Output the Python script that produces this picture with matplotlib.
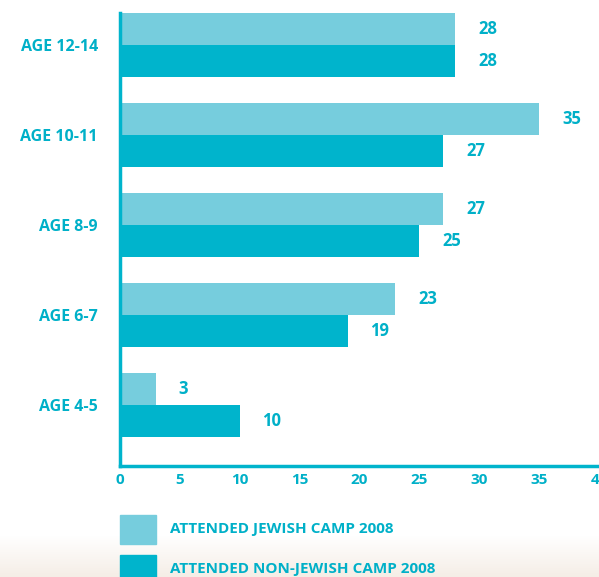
import matplotlib
matplotlib.use("Agg")
import matplotlib.pyplot as plt
import numpy as np
from matplotlib.patches import Rectangle

categories = ["AGE 4-5", "AGE 6-7", "AGE 8-9", "AGE 10-11", "AGE 12-14"]
jewish_camp = [3, 23, 27, 35, 28]
non_jewish_camp = [10, 19, 25, 27, 28]
xticks = [0, 5, 10, 15, 20, 25, 30, 35, 40]
legend_labels = ["ATTENDED JEWISH CAMP 2008", "ATTENDED NON-JEWISH CAMP 2008"]

LIGHT = "#76CDDD"
DARK = "#00B4CC"
TEXT = "#00B0C8"

plt.rcParams["font.family"] = ["Open Sans", "DejaVu Sans"]

W, H = 599, 577
fig = plt.figure(figsize=(W / 100, H / 100), dpi=100)

# soft warm band along the bottom edge
bg = fig.add_axes([0, 0, 1, 1], zorder=-10)
grad = np.ones((H, 1, 3))
ys = np.arange(H)
t = np.clip((ys - 535) / (H - 535), 0, 1)[:, None]
warm = np.array([0.96, 0.93, 0.90])
grad[:, 0, :] = (1 - t) * np.array([1, 1, 1]) + t * warm
bg.imshow(grad, aspect="auto", extent=[0, 1, 0, 1], origin="upper")
bg.axis("off")

ax = fig.add_axes([120 / W, 1 - 466 / H, 1 - 120 / W, (466 - 13) / H])
ax.set_facecolor("none")

y = np.arange(len(categories))
h = 0.356
ax.barh(y + h / 2, jewish_camp, height=h, color=LIGHT, edgecolor="none")
ax.barh(y - h / 2, non_jewish_camp, height=h, color=DARK, edgecolor="none")

for yi, v in zip(y, jewish_camp):
    ax.text(v + 1.9, yi + h / 2, str(v), color=TEXT, fontsize=12,
            fontweight="bold", va="center", ha="left")
for yi, v in zip(y, non_jewish_camp):
    ax.text(v + 1.9, yi - h / 2, str(v), color=TEXT, fontsize=12,
            fontweight="bold", va="center", ha="left")

ax.set_xlim(0, 40)
ax.set_ylim(-0.678, 4.356)
ax.set_xticks(xticks)
ax.set_xticklabels([str(v) for v in xticks], color=TEXT, fontsize=11,
                   fontweight="bold")
ax.set_yticks(y)
ax.set_yticklabels(categories, color=TEXT, fontsize=11.5, fontweight="bold")
ax.tick_params(axis="both", length=0)
ax.tick_params(axis="y", pad=16)
ax.tick_params(axis="x", pad=5)

for s in ["top", "right"]:
    ax.spines[s].set_visible(False)
for s in ["left", "bottom"]:
    ax.spines[s].set_color(DARK)
    ax.spines[s].set_linewidth(2.5)

# legend swatches and labels
for (top, col, lab) in [(515, LIGHT, legend_labels[0]), (555, DARK, legend_labels[1])]:
    fig.patches.append(Rectangle((120 / W, 1 - (top + 29) / H), 36 / W, 29 / H,
                                 transform=fig.transFigure, color=col))
    fig.text(170 / W, 1 - (top + 14) / H, lab, color=TEXT, fontsize=11,
             fontweight="bold", va="center", ha="left")

fig.savefig("out.png", dpi=100)
